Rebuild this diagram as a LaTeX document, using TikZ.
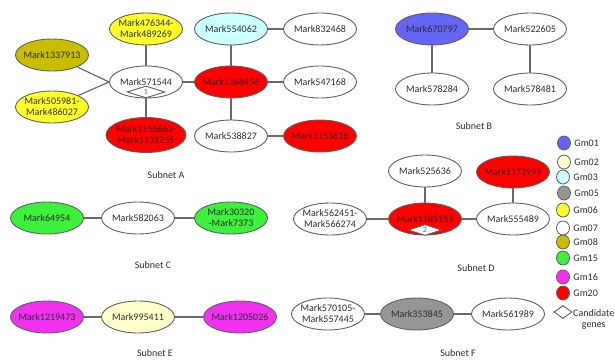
\documentclass[tikz,border=0pt]{standalone}
\usepackage{fontspec}
\setmainfont{Carlito}
\usetikzlibrary{shapes.geometric}

\definecolor{rim}{RGB}{95,95,95}
\definecolor{wire}{RGB}{105,105,105}
\definecolor{ink}{RGB}{45,45,45}
\definecolor{gmone}{RGB}{100,100,245}
\definecolor{gmtwo}{RGB}{255,255,204}
\definecolor{gmthree}{RGB}{204,255,255}
\definecolor{gmfive}{RGB}{150,150,150}
\definecolor{gmsix}{RGB}{255,255,40}
\definecolor{gmeight}{RGB}{200,190,0}
\definecolor{gmfifteen}{RGB}{60,240,60}
\definecolor{gmsixteen}{RGB}{240,50,240}
\definecolor{gmtwenty}{RGB}{255,0,0}

\tikzstyle{snp} = [ellipse, draw=rim, line width=0.9pt, fill=white, minimum width=73pt, minimum height=32pt, inner xsep=-3pt, inner ysep=-2pt, align=center, text=ink, font=\fontsize{10}{11}\selectfont]
\tikzstyle{hot} = [fill=gmtwenty, text=black!75!red]
\tikzstyle{cand} = [diamond, draw=rim, line width=0.9pt, fill=white, inner sep=0pt, text=ink!70, font=\fontsize{8}{8}\selectfont]
\tikzstyle{gm} = [ellipse, draw=rim, line width=0.8pt, minimum width=13pt, minimum height=14pt, inner sep=0pt]
\tikzstyle{gmtext} = [anchor=west, text=ink, font=\fontsize{10}{11}\selectfont]
\tikzstyle{subnet} = [text=ink, font=\fontsize{10}{11}\selectfont]
\tikzstyle{link} = [draw=wire, line width=1.2pt]

\begin{document}
\begin{tikzpicture}[x=1pt, y=-1pt]
\useasboundingbox (0,0) rectangle (615,361);
%begin subnet A
\node[snp, fill=gmsix] (a476) at (146,29) {Mark476344-\\Mark489269};
\node[snp, fill=gmeight] (a1337) at (52,55) {Mark1337913};
\node[snp, fill=gmsix] (a505) at (52,107) {Mark505981-\\Mark486027};
\node[snp] (a571) at (146,82) {Mark571544};
\node[cand, minimum width=38pt, minimum height=12pt] (c1) at (146,92) {1};
\node[snp, hot, minimum width=80pt, minimum height=35pt] (a1158) at (146,135) {Mark1158663-\\Mark1131235};
\node[snp, fill=gmthree] (a554) at (231,29) {Mark554062};
\node[snp, hot] (a1168) at (231,82) {Mark1168456};
\node[snp] (a538) at (231,136) {Mark538827};
\node[snp] (a832) at (320,29) {Mark832468};
\node[snp] (a547) at (320,82) {Mark547168};
\node[snp, hot] (a1153) at (320,136) {Mark1153626};
\node[subnet] (la) at (166,175) {Subnet A};
\draw[link] (a1337) -- (a571.west);
\draw[link] (a505) -- (a571.west);
\draw[link] (a476) -- (a571);
\draw[link] (c1) -- (a1158);
\draw[link] (a571) -- (a1168);
\draw[link] (a554) -- (a1168);
\draw[link] (a1168) -- (a538);
\draw[link] (a1168) -- (a547);
\draw[link] (a554) -- (a832);
\draw[link] (a538) -- (a1153);
%end subnet A
%begin subnet B
\node[snp, fill=gmone] (b670) at (432,29) {Mark670797};
\node[snp] (b522) at (530,29) {Mark522605};
\node[snp] (b578a) at (432,89) {Mark578284};
\node[snp] (b578b) at (530,89) {Mark578481};
\node[subnet] (lb) at (474,126) {Subnet B};
\draw[link] (b670) -- (b522);
\draw[link] (b670) -- (b578a);
\draw[link] (b522) -- (b578b);
%end subnet B
%begin subnet C
\node[snp, fill=gmfifteen] (c649) at (47,218) {Mark64954};
\node[snp] (c582) at (138,218) {Mark582063};
\node[snp, fill=gmfifteen] (c303) at (231,218) {Mark30320\\-Mark7373};
\node[subnet] (lc) at (153,265) {Subnet C};
\draw[link] (c649) -- (c582);
\draw[link] (c582) -- (c303);
%end subnet C
%begin subnet D
\node[snp] (d525) at (425,171) {Mark525636};
\node[snp, hot] (d1173) at (513,172) {Mark1173999};
\node[snp] (d562) at (330,219) {Mark562451-\\Mark566274};
\node[snp, hot] (d1185) at (425,219) {Mark1185159};
\node[cand, minimum width=33pt, minimum height=11pt] (c2) at (425,230) {2};
\node[snp] (d555) at (513,219) {Mark555489};
\node[subnet] (ld) at (476,268) {Subnet D};
\draw[link] (d525) -- (d1185);
\draw[link] (d562) -- (d1185);
\draw[link] (d1185) -- (d555);
\draw[link] (d1173) -- (d555);
%end subnet D
%begin subnet E
\node[snp, fill=gmsixteen] (e1219) at (47,317) {Mark1219473};
\node[snp, fill=gmtwo] (e995) at (138,317) {Mark995411};
\node[snp, fill=gmsixteen] (e1205) at (240,317) {Mark1205026};
\node[subnet] (le) at (155,353) {Subnet E};
\draw[link] (e1219) -- (e995);
\draw[link] (e995) -- (e1205);
%end subnet E
%begin subnet F
\node[snp] (f570) at (328,314) {Mark570105-\\Mark557445};
\node[snp, fill=gmfive] (f353) at (417,314) {Mark353845};
\node[snp] (f561) at (508,314) {Mark561989};
\node[subnet] (lf) at (458,353) {Subnet F};
\draw[link] (f570) -- (f353);
\draw[link] (f353) -- (f561);
%end subnet F
%begin legend
\node[gm, fill=gmone] (k01) at (564,143) {};
\node[gmtext] at (k01.east) {Gm01};
\node[gm, fill=gmtwo] (k02) at (564,162) {};
\node[gmtext] at (k02.east) {Gm02};
\node[gm, fill=gmthree] (k03) at (563,177) {};
\node[gmtext] at (k03.east) {Gm03};
\node[gm, fill=gmfive] (k05) at (564,193) {};
\node[gmtext] at (k05.east) {Gm05};
\node[gm, fill=gmsix] (k06) at (563,210) {};
\node[gmtext] at (k06.east) {Gm06};
\node[gm, fill=white] (k07) at (563,228) {};
\node[gmtext] at (k07.east) {Gm07};
\node[gm, fill=gmeight] (k08) at (563,242) {};
\node[gmtext] at (k08.east) {Gm08};
\node[gm, fill=gmfifteen] (k15) at (563,258) {};
\node[gmtext] at (k15.east) {Gm15};
\node[gm, fill=gmsixteen] (k16) at (563,277) {};
\node[gmtext] at (k16.east) {Gm16};
\node[gm, fill=gmtwenty] (k20) at (563,293) {};
\node[gmtext] at (k20.east) {Gm20};
\node[cand, minimum width=18pt, minimum height=13pt] (kc) at (563,312) {};
\node[gmtext, align=center, anchor=north west, inner xsep=1pt] at (572,306) {Candidate\\genes};
%end legend
\end{tikzpicture}
\end{document}
